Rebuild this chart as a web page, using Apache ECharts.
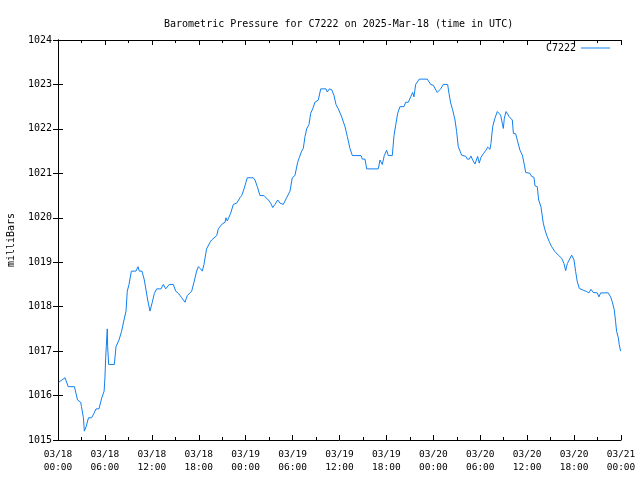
<!DOCTYPE html>
<html>
<head>
<meta charset="utf-8">
<script src="https://cdn.jsdelivr.net/npm/echarts@6/dist/echarts.min.js"></script>
<style>
html,body{margin:0;padding:0;background:#fff;}
#chart{width:640px;height:480px;}
</style>
</head>
<body>
<div id="chart"></div>
<script>
// Hours since 2025-03-18 00:00 UTC
const hours = [
  0.1, 0.9, 1.3, 2.1, 2.5, 2.9, 3.0, 3.25, 3.37, 3.6, 3.9, 4.3, 4.6, 4.86, 5.24, 5.6, 5.9, 6.0, 6.1, 6.22,
  6.3, 6.35, 6.48, 7.2, 7.42, 7.8, 8.14, 8.44, 8.7, 8.86, 9.08, 9.38, 9.97, 10.23, 10.4, 10.74, 11.04, 11.47, 11.76, 12.06,
  12.32, 12.62, 13.17, 13.47, 13.77, 13.95, 14.23, 14.75, 15.05, 15.4, 15.82, 16.24, 16.54, 17.1, 17.39, 17.73, 17.95, 18.24, 18.45, 18.67,
  19.0, 19.2, 19.45, 19.65, 19.9, 20.3, 20.5, 20.93, 21.36, 21.48, 21.65, 21.87, 22.08, 22.42, 22.85, 23.27, 23.49, 23.79, 24.21, 24.98,
  25.19, 25.49, 25.83, 26.34, 26.9, 27.2, 27.46, 27.75, 28.09, 28.4, 28.81, 29.24, 29.67, 29.96, 30.3, 30.65, 30.85, 31.16, 31.37, 31.59,
  31.8, 32.1, 32.31, 32.57, 32.86, 33.29, 33.6, 34.27, 34.44, 34.7, 35.0, 35.3, 35.55, 35.85, 36.28, 36.7, 37.0, 37.34, 37.64, 38.75,
  38.92, 39.26, 39.48, 40.96, 41.18, 41.47, 41.73, 42.03, 42.24, 42.75, 42.97, 43.2, 43.44, 43.73, 44.25, 44.46, 44.8, 45.1, 45.36, 45.52,
  45.74, 46.2, 47.23, 47.66, 48.0, 48.5, 48.94, 49.27, 49.83, 50.0, 50.22, 50.47, 50.77, 50.98, 51.19, 51.62, 52.17, 52.34, 52.6, 52.81,
  53.03, 53.32, 53.67, 53.87, 54.09, 54.39, 54.73, 54.95, 55.24, 55.37, 55.59, 55.88, 56.18, 56.39, 56.61, 56.82, 56.95, 57.08, 57.3, 57.46,
  57.68, 57.93, 58.1, 58.24, 58.53, 58.79, 59.08, 59.38, 59.64, 59.81, 60.36, 60.58, 60.87, 61.0, 61.29, 61.47, 61.76, 62.06, 62.27, 62.49,
  62.83, 63.13, 63.55, 63.98, 64.41, 64.71, 64.92, 65.14, 65.39, 65.69, 65.82, 65.99, 66.2, 66.41, 66.67, 67.18, 67.61, 67.9, 68.16, 68.45,
  68.96, 69.18, 69.4, 70.37, 70.67, 70.88, 71.14, 71.31, 71.44, 71.65, 71.78, 71.95
];
// Pressure in milliBars
const pressure = [
  1016.3, 1016.4, 1016.2, 1016.2, 1015.9, 1015.85, 1015.75, 1015.5, 1015.2, 1015.3, 1015.5, 1015.5, 1015.6, 1015.7, 1015.7, 1015.95, 1016.1, 1016.4, 1016.85, 1017.25,
  1017.5, 1017.1, 1016.7, 1016.7, 1017.1, 1017.25, 1017.45, 1017.7, 1017.9, 1018.35, 1018.5, 1018.8, 1018.8, 1018.9, 1018.8, 1018.8, 1018.6, 1018.15, 1017.9, 1018.1,
  1018.3, 1018.4, 1018.4, 1018.5, 1018.4, 1018.4, 1018.5, 1018.5, 1018.35, 1018.3, 1018.2, 1018.1, 1018.25, 1018.35, 1018.55, 1018.8, 1018.9, 1018.85, 1018.8, 1018.95,
  1019.3, 1019.3, 1019.45, 1019.5, 1019.5, 1019.6, 1019.75, 1019.85, 1019.9, 1020.0, 1019.93, 1019.9, 1020.1, 1020.3, 1020.33, 1020.45, 1020.5, 1020.65, 1020.9, 1020.9,
  1020.85, 1020.7, 1020.5, 1020.5, 1020.4, 1020.33, 1020.23, 1020.3, 1020.4, 1020.33, 1020.3, 1020.45, 1020.6, 1020.9, 1020.95, 1021.25, 1021.35, 1021.5, 1021.56, 1021.83,
  1022.0, 1022.1, 1022.35, 1022.45, 1022.6, 1022.65, 1022.9, 1022.9, 1022.83, 1022.9, 1022.88, 1022.75, 1022.55, 1022.45, 1022.27, 1022.05, 1021.83, 1021.56, 1021.4, 1021.4,
  1021.32, 1021.32, 1021.1, 1021.1, 1021.3, 1021.2, 1021.4, 1021.52, 1021.4, 1021.4, 1021.85, 1022.1, 1022.35, 1022.5, 1022.5, 1022.6, 1022.6, 1022.72, 1022.82, 1022.72,
  1023.0, 1023.12, 1023.12, 1023.0, 1022.98, 1022.82, 1022.9, 1023.0, 1023.0, 1022.8, 1022.58, 1022.43, 1022.2, 1021.94, 1021.6, 1021.41, 1021.38, 1021.32, 1021.32, 1021.39,
  1021.3, 1021.21, 1021.38, 1021.23, 1021.36, 1021.44, 1021.52, 1021.59, 1021.54, 1021.67, 1022.05, 1022.24, 1022.39, 1022.43, 1022.31, 1022.12, 1022.01, 1022.24, 1022.39, 1022.43,
  1022.28, 1022.31, 1022.2, 1021.9, 1021.89, 1021.71, 1021.52, 1021.41, 1021.19, 1021.02, 1021.0, 1020.93, 1020.91, 1020.72, 1020.7, 1020.4, 1020.25, 1019.88, 1019.73, 1019.61,
  1019.46, 1019.35, 1019.24, 1019.16, 1019.09, 1018.97, 1018.81, 1018.97, 1019.01, 1019.16, 1019.2, 1019.05, 1018.79, 1018.56, 1018.41, 1018.37, 1018.34, 1018.31, 1018.39, 1018.32,
  1018.31, 1018.22, 1018.31, 1018.31, 1018.22, 1018.11, 1017.93, 1017.66, 1017.44, 1017.31, 1017.14, 1017.0
];
const xTickDates = ['03/18','03/18','03/18','03/18','03/19','03/19','03/19','03/19','03/20','03/20','03/20','03/20','03/21'];
const xTickTimes = ['00:00','06:00','12:00','18:00','00:00','06:00','12:00','18:00','00:00','06:00','12:00','18:00','00:00'];
const yTicks = [1015, 1016, 1017, 1018, 1019, 1020, 1021, 1022, 1023, 1024];
const seriesName = 'C7222';
const titleText = 'Barometric Pressure for C7222 on 2025-Mar-18 (time in UTC)';
const yAxisName = 'milliBars';

const FONT = 'DejaVu Sans Mono';
const LINE_COLOR = '#1080f0';
const axisLine = { show: true, lineStyle: { color: '#000', width: 1 } };
const xTick = { show: true, inside: true, length: 5, lineStyle: { color: '#000' } };
const xMinor = { show: true, splitNumber: 2, length: 3, lineStyle: { color: '#000' } };
const yTick = { show: true, inside: true, length: 5, lineStyle: { color: '#000' } };

const chart = echarts.init(document.getElementById('chart'), null, { renderer: 'canvas' });
chart.setOption({
  animation: false,
  backgroundColor: '#fff',
  title: {
    text: titleText,
    left: 159,
    top: 14,
    textStyle: { fontFamily: FONT, fontSize: 10, fontWeight: 'normal', color: '#000' }
  },
  legend: {
    data: [seriesName],
    right: 30,
    top: 43,
    align: 'right',
    icon: 'rect',
    itemWidth: 29,
    itemHeight: 1,
    itemGap: 6,
    textStyle: { fontFamily: FONT, fontSize: 10, color: '#000', padding: [0, 0, 0, 0] },
    padding: 0
  },
  grid: { left: 58, right: 19, top: 40, bottom: 40, containLabel: false, outerBoundsMode: 'none' },
  xAxis: [
    {
      type: 'value', min: 0, max: 72, interval: 6, position: 'bottom',
      axisLine: axisLine, axisTick: xTick, minorTick: xMinor,
      splitLine: { show: false },
      axisLabel: {
        margin: 8, lineHeight: 13, fontFamily: FONT, fontSize: 9.5, color: '#000',
        formatter: function (v) { const i = Math.round(v / 6); return xTickDates[i] + '\n' + xTickTimes[i]; }
      }
    },
    {
      type: 'value', min: 0, max: 72, interval: 6, position: 'top',
      axisLine: axisLine, axisTick: xTick, minorTick: xMinor,
      splitLine: { show: false }, axisLabel: { show: false }
    }
  ],
  yAxis: [
    {
      type: 'value', min: yTicks[0], max: yTicks[yTicks.length - 1], interval: 1, position: 'left',
      axisLine: axisLine, axisTick: yTick, splitLine: { show: false },
      axisLabel: { margin: 6, fontFamily: FONT, fontSize: 10, color: '#000', formatter: function (v) { return String(v); } },
      name: yAxisName, nameLocation: 'middle', nameRotate: 90, nameGap: 42,
      nameTextStyle: { fontFamily: FONT, fontSize: 10, color: '#000' }
    },
    {
      type: 'value', min: yTicks[0], max: yTicks[yTicks.length - 1], interval: 1, position: 'right',
      axisLine: axisLine, axisTick: yTick, splitLine: { show: false }, axisLabel: { show: false }
    }
  ],
  series: [
    {
      name: seriesName,
      type: 'line',
      xAxisIndex: 0,
      yAxisIndex: 0,
      data: hours.map(function (h, i) { return [h, pressure[i]]; }),
      showSymbol: false,
      symbol: 'none',
      lineStyle: { color: LINE_COLOR, width: 1 },
      itemStyle: { color: LINE_COLOR }
    }
  ]
});
</script>
</body>
</html>
